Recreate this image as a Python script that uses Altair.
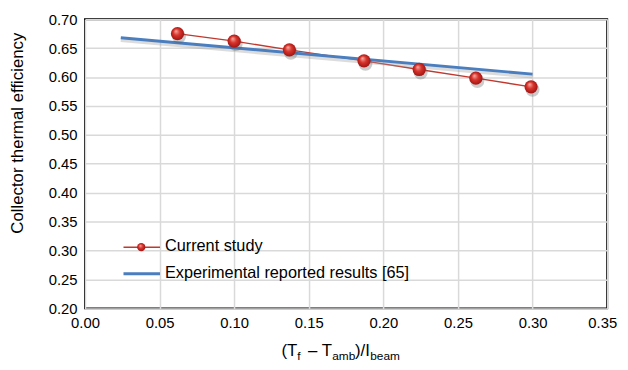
import altair as alt
import pandas as pd

# Data
current_x = [0.062, 0.100, 0.137, 0.187, 0.224, 0.262, 0.299]
current_y = [0.675, 0.662, 0.647, 0.628, 0.613, 0.598, 0.583]
exp_x = [0.024, 0.300]
exp_y = [0.668, 0.605]
x_ticks = [0.0, 0.05, 0.10, 0.15, 0.20, 0.25, 0.30, 0.35]
y_ticks = [0.20, 0.25, 0.30, 0.35, 0.40, 0.45, 0.50, 0.55, 0.60, 0.65, 0.70]
series_names = ["Current study", "Experimental reported results [65]"]

FONT = "Liberation Sans"
RED = "#c0392f"
BLUE = "#4a7ebf"

cur = pd.DataFrame({"x": current_x, "y": current_y})
exp = pd.DataFrame({"x": exp_x, "y": exp_y})
dummy = pd.DataFrame({"a": [0]})

xscale = alt.Scale(domain=[0, 0.35], nice=False, zero=False)
yscale = alt.Scale(domain=[0.2, 0.7], nice=False, zero=False)

xenc = alt.X("x:Q", scale=xscale,
             axis=alt.Axis(values=x_ticks, format=".2f", title=None, labelFlush=False,
                           labelOverlap=False, tickCount=8,
                           grid=True, ticks=False, domain=False, labelPadding=7,
                           labelOffset={"condition": {"test": "datum.value >= 0.349", "value": -5},
                                        "value": 0}))
yenc = alt.Y("y:Q", scale=yscale,
             axis=alt.Axis(values=y_ticks, format=".2f", title="Collector thermal efficiency",
                           labelOverlap=False, tickCount=11,
                           grid=True, ticks=False, domain=False, labelPadding=8,
                           titleX=-68, titleY=115, titleAngle=-90, titleBaseline="middle",
                           titleAlign="center", titleFontSize=17, titleFont=FONT,
                           titleFontWeight="normal", titleColor="black"))

sphere = alt.RadialGradient(
    gradient="radial",
    stops=[alt.GradientStop(color="#f7b0a8", offset=0),
           alt.GradientStop(color="#d8352c", offset=0.45),
           alt.GradientStop(color="#9a1010", offset=1)],
    x1=0.38, y1=0.3, r1=0.0, x2=0.5, y2=0.5, r2=0.55)

red_line = alt.Chart(cur).mark_line(color=RED, strokeWidth=1.4).encode(x=xenc, y=yenc)
blue_shadow = alt.Chart(exp).mark_line(color="#9a9a9a", strokeWidth=4, opacity=0.35,
                                       yOffset=2.5).encode(x=xenc, y=yenc)
blue_line = alt.Chart(exp).mark_line(color=BLUE, strokeWidth=3).encode(x=xenc, y=yenc)
pt_shadow = alt.Chart(cur).mark_circle(color="#555555", opacity=0.3, size=200,
                                       xOffset=1.5, yOffset=3).encode(x=xenc, y=yenc)
points = alt.Chart(cur).mark_circle(fill=sphere, opacity=1, size=180).encode(x=xenc, y=yenc)

# Legend (inside plot, lower left)
leg_red = alt.Chart(dummy).mark_rule(color=RED, strokeWidth=1.4).encode(
    x=alt.value(39), x2=alt.value(76), y=alt.value(231))
leg_pt = alt.Chart(dummy).mark_circle(fill=sphere, opacity=1, size=70).encode(
    x=alt.value(57), y=alt.value(231))
leg_blue = alt.Chart(dummy).mark_rule(color=BLUE, strokeWidth=3).encode(
    x=alt.value(39), x2=alt.value(76), y=alt.value(258))
leg_t1 = alt.Chart(dummy).mark_text(align="left", baseline="middle", font=FONT, fontSize=16.5,
                                    color="black", text=series_names[0]).encode(
    x=alt.value(81), y=alt.value(230))
leg_t2 = alt.Chart(dummy).mark_text(align="left", baseline="middle", font=FONT, fontSize=16.5,
                                    color="black", text=series_names[1]).encode(
    x=alt.value(81), y=alt.value(257))

# X-axis title with subscripts: (T_f – T_amb)/I_beam
def seg(txt, xpos, size, ybase):
    return alt.Chart(dummy).mark_text(align="left", baseline="alphabetic", font=FONT,
                                      fontSize=size, color="black", text=txt).encode(
        x=alt.value(xpos), y=alt.value(ybase))

BASE = 341
SUB = 345
xtitle = [
    seg("(T", 199, 17, BASE),
    seg("f", 215, 12, SUB),
    seg("– T", 226, 17, BASE),
    seg("amb", 250.5, 12, SUB),
    seg(")/I", 273.5, 17, BASE),
    seg("beam", 289, 12, SUB),
]

chart = alt.layer(red_line, blue_shadow, blue_line, pt_shadow, points,
                  leg_red, leg_pt, leg_blue, leg_t1, leg_t2, *xtitle).properties(
    width=529, height=293,
    autosize=alt.AutoSizeParams(type="none"),
    padding={"left": 78, "top": 9, "right": 13, "bottom": 52},
).configure_view(stroke="black", strokeWidth=2).configure_axis(
    labelFont=FONT, labelFontSize=15, labelColor="black",
    gridColor="#d9d9d9", gridWidth=1.5,
)

chart.save("out.html", embed_options={"renderer": "svg", "actions": False})
